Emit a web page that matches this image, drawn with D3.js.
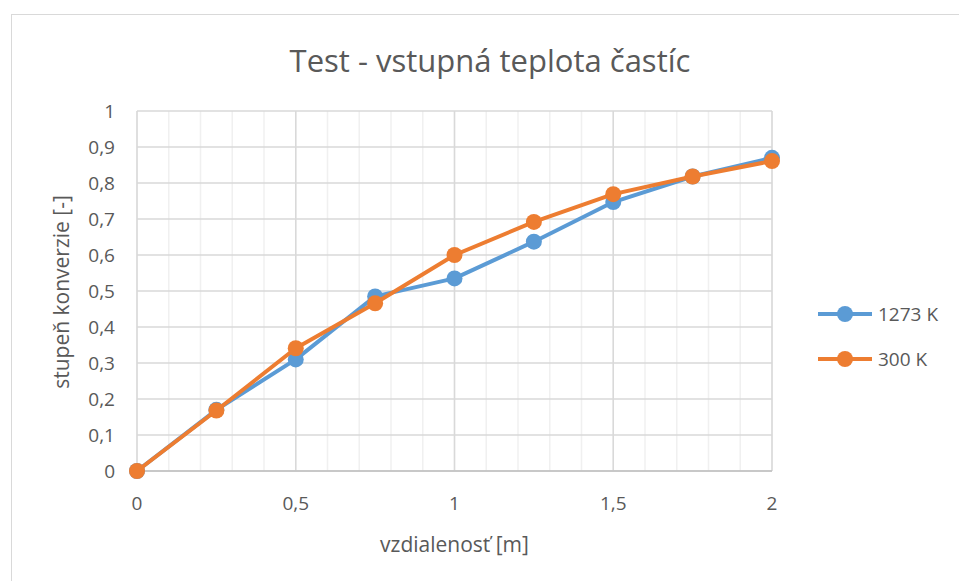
<!DOCTYPE html>
<html>
<head>
<meta charset="utf-8">
<script src="https://cdn.jsdelivr.net/npm/d3@7"></script>
<style>
  body { margin: 0; background: #fff; }
  svg text { font-family: "Open Sans", "Noto Sans", sans-serif; fill: #595959; }
</style>
</head>
<body>
<div id="chart"></div>
<script>
// data
var distances = [0, 0.25, 0.5, 0.75, 1, 1.25, 1.5, 1.75, 2];
var conv1273 = [0, 0.17, 0.31, 0.485, 0.535, 0.637, 0.747, 0.818, 0.87];
var conv300 = [0, 0.168, 0.341, 0.466, 0.6, 0.692, 0.769, 0.818, 0.861];
var seriesNames = ["1273 K", "300 K"];
var seriesColors = ["#5B9BD5", "#ED7D31"];
var xTicks = [0, 0.5, 1, 1.5, 2];
var yTicks = [0, 0.1, 0.2, 0.3, 0.4, 0.5, 0.6, 0.7, 0.8, 0.9, 1];

var width = 959, height = 581;
var svg = d3.select('#chart').append('svg').attr('width', width).attr('height', height);

// outer chart border
svg.append('rect').attr('x', 11.5).attr('y', 14.5).attr('width', 960).attr('height', 600)
  .attr('fill', '#fff').attr('stroke', '#D9D9D9');

var x = d3.scaleLinear().domain([0, 2]).range([137, 772]);
var y = d3.scaleLinear().domain([0, 1]).range([471, 111]);
var fmt = function(d) { return String(d).replace('.', ','); };

// minor vertical grid every 0.1
var minor = d3.range(0, 21).map(function(i) { return i / 10; });
svg.append('g').selectAll('line').data(minor).enter().append('line')
  .attr('x1', function(d) { return x(d); }).attr('x2', function(d) { return x(d); })
  .attr('y1', y(1)).attr('y2', y(0)).attr('stroke', '#F0F0F0').attr('stroke-width', 1.5);

// major horizontal + vertical grid
svg.append('g').selectAll('line').data(yTicks).enter().append('line')
  .attr('x1', x(0)).attr('x2', x(2))
  .attr('y1', function(d) { return y(d); }).attr('y2', function(d) { return y(d); })
  .attr('stroke', '#D9D9D9').attr('stroke-width', 1.5);
svg.append('g').selectAll('line').data(xTicks).enter().append('line')
  .attr('x1', function(d) { return x(d); }).attr('x2', function(d) { return x(d); })
  .attr('y1', y(1)).attr('y2', y(0)).attr('stroke', '#D9D9D9').attr('stroke-width', 1.5);

// axis line
svg.append('line').attr('x1', x(0)).attr('x2', x(2)).attr('y1', y(0)).attr('y2', y(0))
  .attr('stroke', '#BFBFBF').attr('stroke-width', 1.5);

// tick labels
svg.append('g').selectAll('text').data(yTicks).enter().append('text')
  .attr('x', 115).attr('y', function(d) { return y(d); }).attr('dy', '0.35em')
  .attr('text-anchor', 'end').style('font-size', '19px').text(fmt);
svg.append('g').selectAll('text').data(xTicks).enter().append('text')
  .attr('x', function(d) { return x(d); }).attr('y', 510)
  .attr('text-anchor', 'middle').style('font-size', '19px').text(fmt);

// titles
svg.append('text').attr('x', 490).attr('y', 72).attr('text-anchor', 'middle')
  .style('font-size', '31px').text('Test - vstupná teplota častíc');
svg.append('text').attr('x', x(1)).attr('y', 552).attr('text-anchor', 'middle')
  .style('font-size', '21px').text('vzdialenosť [m]');
svg.append('text').attr('transform', 'translate(69,292) rotate(-90)').attr('text-anchor', 'middle')
  .style('font-size', '21px').text('stupeň konverzie [-]');

// series
var allSeries = [conv1273, conv300];
var line = d3.line().x(function(d, i) { return x(distances[i]); }).y(function(d) { return y(d); });
allSeries.forEach(function(vals, s) {
  var g = svg.append('g');
  g.append('path').datum(vals).attr('d', line).attr('fill', 'none')
    .attr('stroke', seriesColors[s]).attr('stroke-width', 4).attr('stroke-linejoin', 'round');
  g.selectAll('circle').data(vals).enter().append('circle')
    .attr('cx', function(d, i) { return x(distances[i]); }).attr('cy', function(d) { return y(d); })
    .attr('r', 8).attr('fill', seriesColors[s]);
});

// legend
var legend = svg.append('g').selectAll('g').data(seriesNames).enter().append('g')
  .attr('transform', function(d, i) { return 'translate(818,' + (314 + i * 45) + ')'; });
legend.append('line').attr('x1', 0).attr('x2', 54).attr('stroke', function(d, i) { return seriesColors[i]; })
  .attr('stroke-width', 4);
legend.append('circle').attr('cx', 27).attr('r', 8).attr('fill', function(d, i) { return seriesColors[i]; });
legend.append('text').attr('x', 60).attr('dy', '0.35em').style('font-size', '19px').text(function(d) { return d; });
</script>
</body>
</html>
